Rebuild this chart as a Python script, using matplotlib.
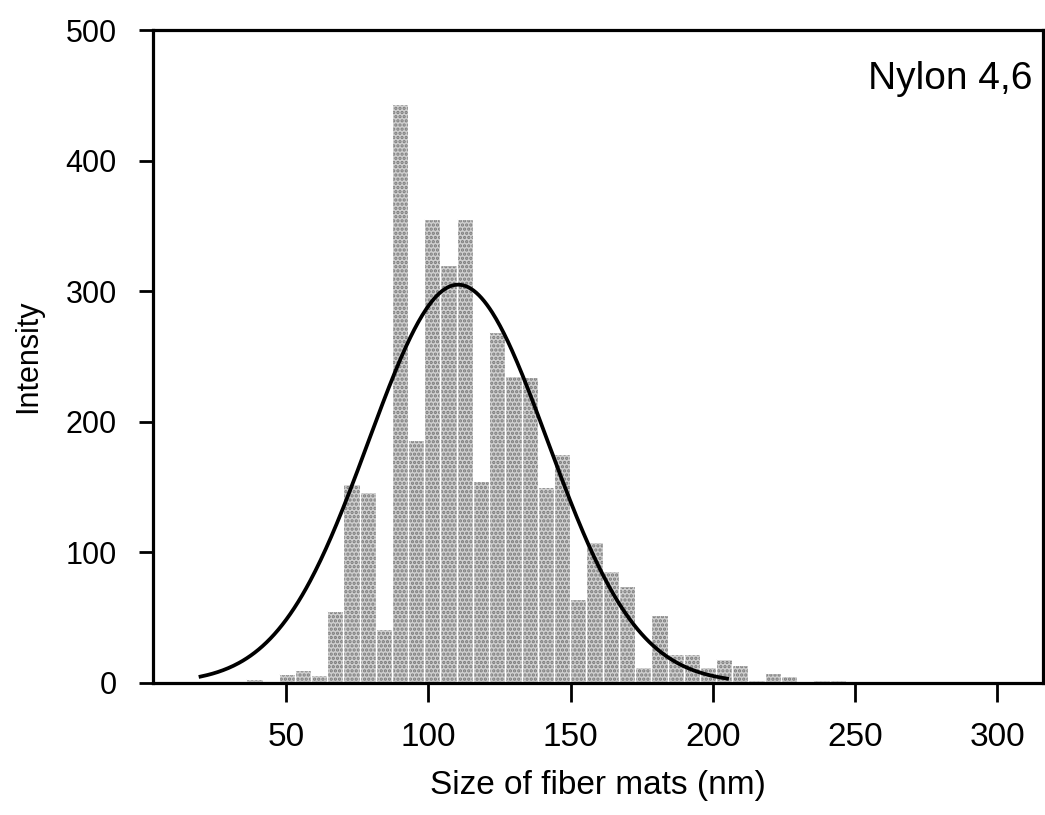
import numpy as np
import matplotlib
matplotlib.use("Agg")
import matplotlib.pyplot as plt

plt.rcParams['font.family'] = ['Liberation Sans', 'DejaVu Sans']
plt.rcParams['hatch.linewidth'] = 1.6

# Histogram: bin left edges (nm), bin width and counts
bin_width = 5.69
bin_lefts = [36.1, 41.8, 47.4, 53.1, 58.8, 64.5, 70.2, 75.9, 81.6, 87.2,
             92.9, 98.6, 104.3, 110.0, 115.7, 121.4, 127.1, 132.8, 138.5, 144.2,
             149.9, 155.6, 161.3, 167.0, 172.7, 178.4, 184.1, 189.8, 195.4, 201.1,
             206.8, 212.5, 218.2, 223.9, 229.6, 235.3, 241.0]
counts = [3, 0, 7, 10, 6, 55, 152, 146, 41, 443,
          186, 355, 320, 355, 155, 269, 235, 234, 150, 175,
          64, 108, 86, 74, 12, 52, 22, 22, 12, 18,
          14, 2, 8, 5, 0, 2, 2]

# Gaussian fit parameters
fit_amp = 305
fit_mu = 110.5
fit_sigma = 31.5
fit_range = (20, 205)

xticks = [50, 100, 150, 200, 250, 300]
yticks = [0, 100, 200, 300, 400, 500]

fig = plt.figure(figsize=(10.45, 8.15), dpi=100)
ax = fig.add_axes([153/1045, 1 - 683/815, (1043-153)/1045, (683-30)/815])

ax.bar(bin_lefts, counts, width=bin_width, align='edge',
       facecolor='#cfcfcf', edgecolor='#7a7a7a', hatch='....', linewidth=0)
ax.bar(bin_lefts, counts, width=bin_width, align='edge',
       facecolor='none', edgecolor='white', linewidth=0.9)

xf = np.linspace(fit_range[0], fit_range[1], 400)
yf = fit_amp * np.exp(-0.5 * ((xf - fit_mu) / fit_sigma) ** 2)
ax.plot(xf, yf, color='black', linewidth=2.7, zorder=5)

ax.set_xlim(3.3, 316)
ax.set_ylim(0, 500)
ax.set_xticks(xticks)
ax.set_yticks(yticks)
ax.tick_params(axis='x', direction='out', length=14, width=2.0, pad=14, labelsize=24)
ax.tick_params(axis='y', direction='out', length=10, width=2.0, pad=16, labelsize=22)
for s in ax.spines.values():
    s.set_linewidth(2.3)

ax.set_xlabel('Size of fiber mats (nm)', fontsize=24, labelpad=12)
ax.set_ylabel('Intensity', fontsize=22, labelpad=16)
ax.text(0.988, 0.925, 'Nylon 4,6', transform=ax.transAxes, ha='right', va='center',
        fontsize=28)

fig.savefig('out.png', dpi=100)
